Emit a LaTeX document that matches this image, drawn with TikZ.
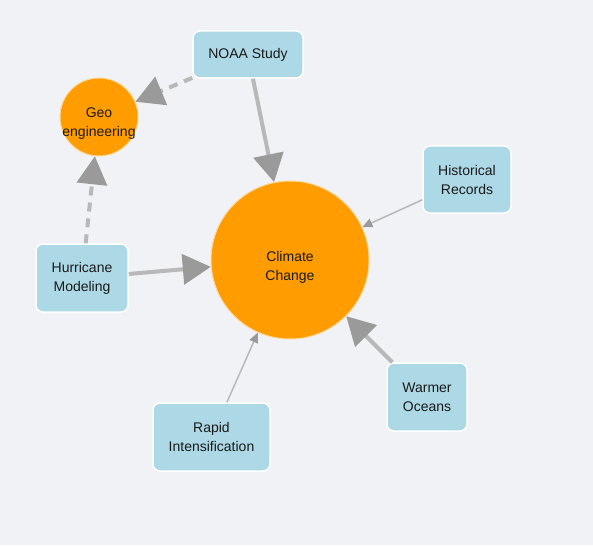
\documentclass[tikz,border=0pt]{standalone}
\usepackage{fontspec}
\setmainfont{Liberation Sans}
\usetikzlibrary{arrows.meta}

\definecolor{bgcol}{HTML}{F0F2F5}
\definecolor{hubcol}{HTML}{FF9C00}
\definecolor{boxcol}{HTML}{ADD8E6}
\definecolor{linecol}{HTML}{B8B8B8}
\definecolor{headcol}{HTML}{9A9A9A}
\definecolor{textcol}{HTML}{1A1A1A}

\begin{document}
\begin{tikzpicture}[x=1pt,y=-1pt,
  every node/.style={text=textcol,font=\fontsize{14}{19}\selectfont,align=center},
  topic/.style={circle,fill=hubcol,draw=hubcol!40!white,line width=1pt,inner sep=0pt},
  source/.style={rectangle,rounded corners=7pt,fill=boxcol,draw=white,line width=1.5pt,
    minimum height=68pt,inner sep=0pt},
  strong/.style={draw=linecol,line width=4pt,-{Triangle[length=28pt,width=30pt,color=headcol]}},
  weak/.style={draw=linecol,line width=1.5pt,-{Triangle[length=10pt,width=9pt,color=headcol]}},
  guess/.style={strong,dash pattern=on 9pt off 7pt}]
  % Background
  \fill[bgcol] (0,0) rectangle (593,545);
  \useasboundingbox (0,0) rectangle (593,545);
  % Circles
  \node[topic,minimum size=158pt] (climate) at (290,260) {};
  \node[topic,minimum size=78pt] (geo) at (99,117) {};
  \node (climatetext) at ([yshift=-7pt]climate.center) {Climate\\Change};
  \node (geotext) at ([yshift=-7pt]geo.center) {Geo\\engineering};
  % Sources
  \node[source,minimum width=110pt,minimum height=47pt] (noaa) at (248,54.5) {NOAA Study};
  \node[source,minimum width=88pt,minimum height=67pt] (historical) at (467,179.5) {Historical\\Records};
  \node[source,minimum width=92pt] (hurricane) at (82,278) {Hurricane\\Modeling};
  \node[source,minimum width=117pt] (rapid) at (211.5,437) {Rapid\\Intensification};
  \node[source,minimum width=80pt] (warmer) at (427,397) {Warmer\\Oceans};
  % Links
  \draw[strong] (noaa) -- (climate);
  \draw[strong] (hurricane) -- (climate);
  \draw[strong] (warmer) -- (climate);
  \draw[weak] (historical) -- (climate);
  \draw[weak] (rapid) -- (climate);
  \draw[guess] (noaa) -- (geo);
  \draw[guess] (hurricane) -- (geo);
\end{tikzpicture}
\end{document}
